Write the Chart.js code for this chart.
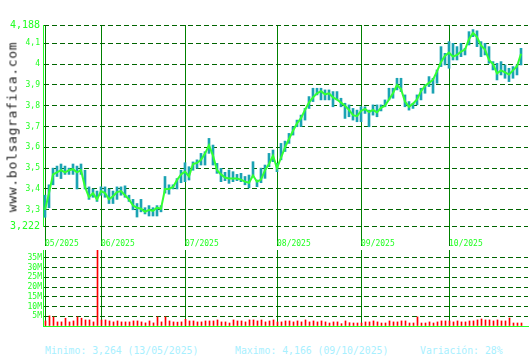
<!DOCTYPE html>
<html>
<head>
<meta charset="utf-8">
<script src="https://cdn.jsdelivr.net/npm/chart.js@4"></script>
<style>
  body { margin: 0; background: #fff; width: 530px; height: 360px; position: relative; overflow: hidden; font-family: "DejaVu Sans Mono", monospace; }
  #price { position: absolute; left: 0; top: 0; }
  #volume { position: absolute; left: 0; top: 248px; }
  .web { position: absolute; left: 12px; top: 127px; transform: translate(-50%, -50%) rotate(-90deg); font-size: 13px; letter-spacing: 0.7px; color: #222; white-space: nowrap; }
  .foot { position: absolute; top: 345px; font-size: 9.8px; line-height: 12px; color: #a8f0ff; white-space: nowrap; }
</style>
</head>
<body>
<canvas id="price" width="530" height="250"></canvas>
<canvas id="volume" width="530" height="80"></canvas>
<div class="web">www.bolsagrafica.com</div>
<div class="foot" style="left:45px">Minimo: 3,264 (13/05/2025)</div>
<div class="foot" style="left:235px">Maximo: 4,166 (09/10/2025)</div>
<div class="foot" style="left:420px">Variación: 28%</div>
<script>
// trading days from 13/05/2025, one value per session
const monthStart = [0, 14, 35, 58, 79, 101];
const monthLabels = ["05/2025", "06/2025", "07/2025", "08/2025", "09/2025", "10/2025"];
const priceTicks = [3.222, 3.3, 3.4, 3.5, 3.6, 3.7, 3.8, 3.9, 4, 4.1, 4.188];
const volumeTicks = [0, 5, 10, 15, 20, 25, 30, 35];

const close = [
  3.30, 3.38, 3.47, 3.48, 3.49, 3.48, 3.49, 3.495, 3.48, 3.49, 3.41, 3.36, 3.38, 3.35,
  3.39, 3.38, 3.35, 3.365, 3.385, 3.39, 3.37, 3.35, 3.32, 3.31, 3.305, 3.29, 3.30, 3.295,
  3.31, 3.305, 3.40, 3.40, 3.41, 3.443, 3.47,
  3.483, 3.46, 3.52, 3.525, 3.54, 3.57, 3.61, 3.56, 3.49, 3.47, 3.455, 3.45, 3.45, 3.45,
  3.445, 3.435, 3.43, 3.465, 3.435, 3.445, 3.49, 3.52, 3.56,
  3.50, 3.55, 3.60, 3.64, 3.68, 3.715, 3.74, 3.78, 3.815, 3.84, 3.86, 3.87, 3.855, 3.86,
  3.84, 3.83, 3.815, 3.80, 3.78, 3.755, 3.75,
  3.775, 3.785, 3.77, 3.78, 3.768, 3.79, 3.80, 3.83, 3.86, 3.90, 3.88, 3.82, 3.795, 3.81,
  3.83, 3.87, 3.895, 3.91, 3.925, 3.965, 4.01, 4.04,
  4.055, 4.036, 4.044, 4.06, 4.07, 4.12, 4.15, 4.13, 4.09, 4.07, 4.02, 4.00, 3.955, 3.97,
  3.96, 3.95, 3.97, 3.99, 4.05
];
const high = [
  3.37, 3.42, 3.50, 3.51, 3.52, 3.51, 3.50, 3.52, 3.51, 3.52, 3.49, 3.41, 3.40, 3.39,
  3.41, 3.41, 3.40, 3.39, 3.41, 3.41, 3.415, 3.37, 3.35, 3.33, 3.35, 3.31, 3.32, 3.31,
  3.32, 3.32, 3.46, 3.42, 3.42, 3.45, 3.49,
  3.526, 3.507, 3.53, 3.54, 3.571, 3.579, 3.643, 3.611, 3.523, 3.499, 3.48, 3.491, 3.483, 3.47,
  3.475, 3.46, 3.467, 3.531, 3.443, 3.50, 3.515, 3.571, 3.587,
  3.523, 3.619, 3.63, 3.667, 3.699, 3.731, 3.755, 3.787, 3.844, 3.884, 3.884, 3.884, 3.876, 3.876,
  3.868, 3.868, 3.836, 3.812, 3.804, 3.787, 3.779,
  3.795, 3.795, 3.779, 3.804, 3.804, 3.804, 3.828, 3.884, 3.884, 3.932, 3.932, 3.852, 3.82, 3.812,
  3.852, 3.884, 3.90, 3.94, 3.932, 3.972, 4.084, 4.052,
  4.108, 4.10, 4.084, 4.10, 4.076, 4.156, 4.166, 4.16, 4.108, 4.10, 4.084, 4.012, 4.004, 4.012,
  3.996, 3.98, 3.988, 3.996, 4.076
];
const low = [
  3.264, 3.31, 3.42, 3.46, 3.45, 3.47, 3.47, 3.47, 3.40, 3.47, 3.40, 3.35, 3.36, 3.34,
  3.37, 3.36, 3.33, 3.33, 3.35, 3.37, 3.36, 3.34, 3.30, 3.265, 3.29, 3.28, 3.27, 3.27,
  3.27, 3.29, 3.38, 3.375, 3.40, 3.40, 3.43,
  3.435, 3.443, 3.49, 3.50, 3.515, 3.515, 3.571, 3.515, 3.475, 3.435, 3.44, 3.427, 3.435, 3.44,
  3.435, 3.42, 3.405, 3.459, 3.411, 3.43, 3.451, 3.507, 3.531,
  3.483, 3.54, 3.58, 3.619, 3.659, 3.699, 3.70, 3.731, 3.787, 3.82, 3.852, 3.828, 3.828, 3.828,
  3.795, 3.828, 3.795, 3.739, 3.747, 3.731, 3.723,
  3.723, 3.763, 3.699, 3.755, 3.747, 3.775, 3.795, 3.828, 3.836, 3.876, 3.868, 3.795, 3.779, 3.787,
  3.804, 3.828, 3.86, 3.892, 3.86, 3.908, 3.988, 3.996,
  3.98, 4.02, 4.02, 4.036, 4.044, 4.092, 4.132, 4.084, 4.036, 4.044, 4.004, 3.972, 3.924, 3.948,
  3.932, 3.916, 3.932, 3.948, 3.996
];
// millions of shares
const volume = [
  2.6, 5.2, 4.7, 2.1, 2.1, 4.0, 2.1, 2.6, 4.7, 4.0, 3.1, 3.1, 2.1, 40,
  3.1, 3.1, 2.6, 2.1, 2.6, 2.1, 2.1, 2.1, 2.6, 2.6, 2.1, 1.6, 2.6, 1.6,
  4.7, 2.1, 4.7, 2.6, 2.1, 2.0, 2.1,
  3.45, 2.6, 2.6, 2.1, 2.1, 2.6, 2.6, 2.6, 3.1, 2.1, 2.1, 1.55, 3.1, 2.6,
  2.6, 2.1, 3.1, 3.1, 2.6, 3.1, 2.1, 2.6, 3.1,
  2.1, 2.1, 2.6, 2.6, 2.1, 2.6, 2.1, 3.1, 2.1, 2.6, 2.1, 2.6, 2.1, 1.55,
  2.1, 2.1, 1.2, 2.6, 1.7, 1.55, 1.55,
  1.55, 2.1, 2.1, 2.6, 2.1, 1.55, 1.55, 2.6, 2.1, 2.1, 2.6, 2.6, 1.55, 1.55,
  4.66, 1.55, 1.55, 2.1, 1.55, 2.1, 2.6, 2.6,
  2.6, 2.1, 2.6, 2.1, 2.1, 2.6, 2.6, 3.1, 3.6, 3.1, 3.1, 2.6, 3.1, 2.6,
  2.6, 4.1, 1.55, 1.55, 1.55
];

const LIME = "#22ff22";
const GRID = "#006400";
const MONTH = "#008000";
const FONT = "DejaVu Sans Mono";

function noPad(s) {
  s.paddingLeft = 0; s.paddingRight = 0; s.paddingTop = 0; s.paddingBottom = 0;
}

new Chart(document.getElementById("price"), {
  type: "bar",
  data: {
    datasets: [
      {
        type: "line",
        data: close.map((v, i) => ({ x: i, y: v })),
        borderColor: "#33ff33",
        borderWidth: 2,
        pointRadius: 0,
        tension: 0,
        order: 0,
      },
      {
        type: "bar",
        data: high.map((v, i) => ({ x: i, y: [low[i], v] })),
        backgroundColor: "#1ba3b3",
        barThickness: 2,
        order: 1,
      },
    ],
  },
  options: {
    responsive: false,
    animation: false,
    layout: { padding: { top: 25, right: 2, left: 0, bottom: 0 } },
    plugins: { legend: { display: false }, tooltip: { enabled: false } },
    scales: {
      x: {
        type: "linear",
        min: -0.5,
        max: 120.75,
        offset: false,
        afterBuildTicks: (s) => { s.ticks = monthStart.map((v) => ({ value: v })); },
        afterFit: (s) => { s.height = 24; noPad(s); },
        grid: { color: MONTH, offset: false, drawTicks: true, tickLength: 20, tickColor: MONTH },
        border: { display: false },
        ticks: {
          color: LIME,
          font: { family: FONT, size: 8 },
          align: "start",
          padding: -7,
          maxRotation: 0,
          autoSkip: false,
          callback: (v, i) => monthLabels[i],
        },
      },
      y: {
        min: 3.222,
        max: 4.188,
        beginAtZero: false,
        afterBuildTicks: (s) => { s.ticks = priceTicks.map((v) => ({ value: v })); },
        afterFit: (s) => { s.width = 43; noPad(s); },
        grid: { color: GRID, drawTicks: false },
        border: { color: LIME, width: 1, dash: [5, 3] },
        ticks: {
          color: LIME,
          padding: 3,
          autoSkip: false,
          font: (ctx) => ({
            family: FONT,
            size: ctx.tick && (ctx.tick.value === 3.222 || ctx.tick.value === 4.188) ? 10 : 8,
          }),
          callback: (v) => String(v).replace(".", ","),
        },
      },
    },
  },
});

new Chart(document.getElementById("volume"), {
  type: "bar",
  data: {
    datasets: [
      {
        data: volume.map((v, i) => ({ x: i, y: v })),
        backgroundColor: "#ff0000",
        barThickness: 1,
      },
    ],
  },
  options: {
    responsive: false,
    animation: false,
    layout: { padding: { top: 2, right: 2, left: 0, bottom: 2 } },
    plugins: { legend: { display: false }, tooltip: { enabled: false } },
    scales: {
      x: {
        type: "linear",
        min: -0.625,
        max: 120.625,
        offset: false,
        z: 1,
        afterBuildTicks: (s) => { s.ticks = monthStart.map((v) => ({ value: v })); },
        afterFit: (s) => { s.height = 0; noPad(s); },
        grid: { color: MONTH, offset: false, drawTicks: false },
        border: { display: true, color: LIME, width: 1 },
        ticks: { display: false },
      },
      y: {
        min: 0,
        max: 39.1,
        afterBuildTicks: (s) => { s.ticks = volumeTicks.map((v) => ({ value: v })); },
        afterFit: (s) => { s.width = 43; noPad(s); },
        grid: { color: GRID, drawTicks: false },
        border: { color: LIME, width: 1, dash: [5, 3] },
        ticks: {
          color: LIME,
          padding: 1,
          autoSkip: false,
          font: { family: FONT, size: 8 },
          callback: (v) => (v === 0 ? "" : v + "M"),
        },
      },
    },
  },
});
</script>
</body>
</html>
